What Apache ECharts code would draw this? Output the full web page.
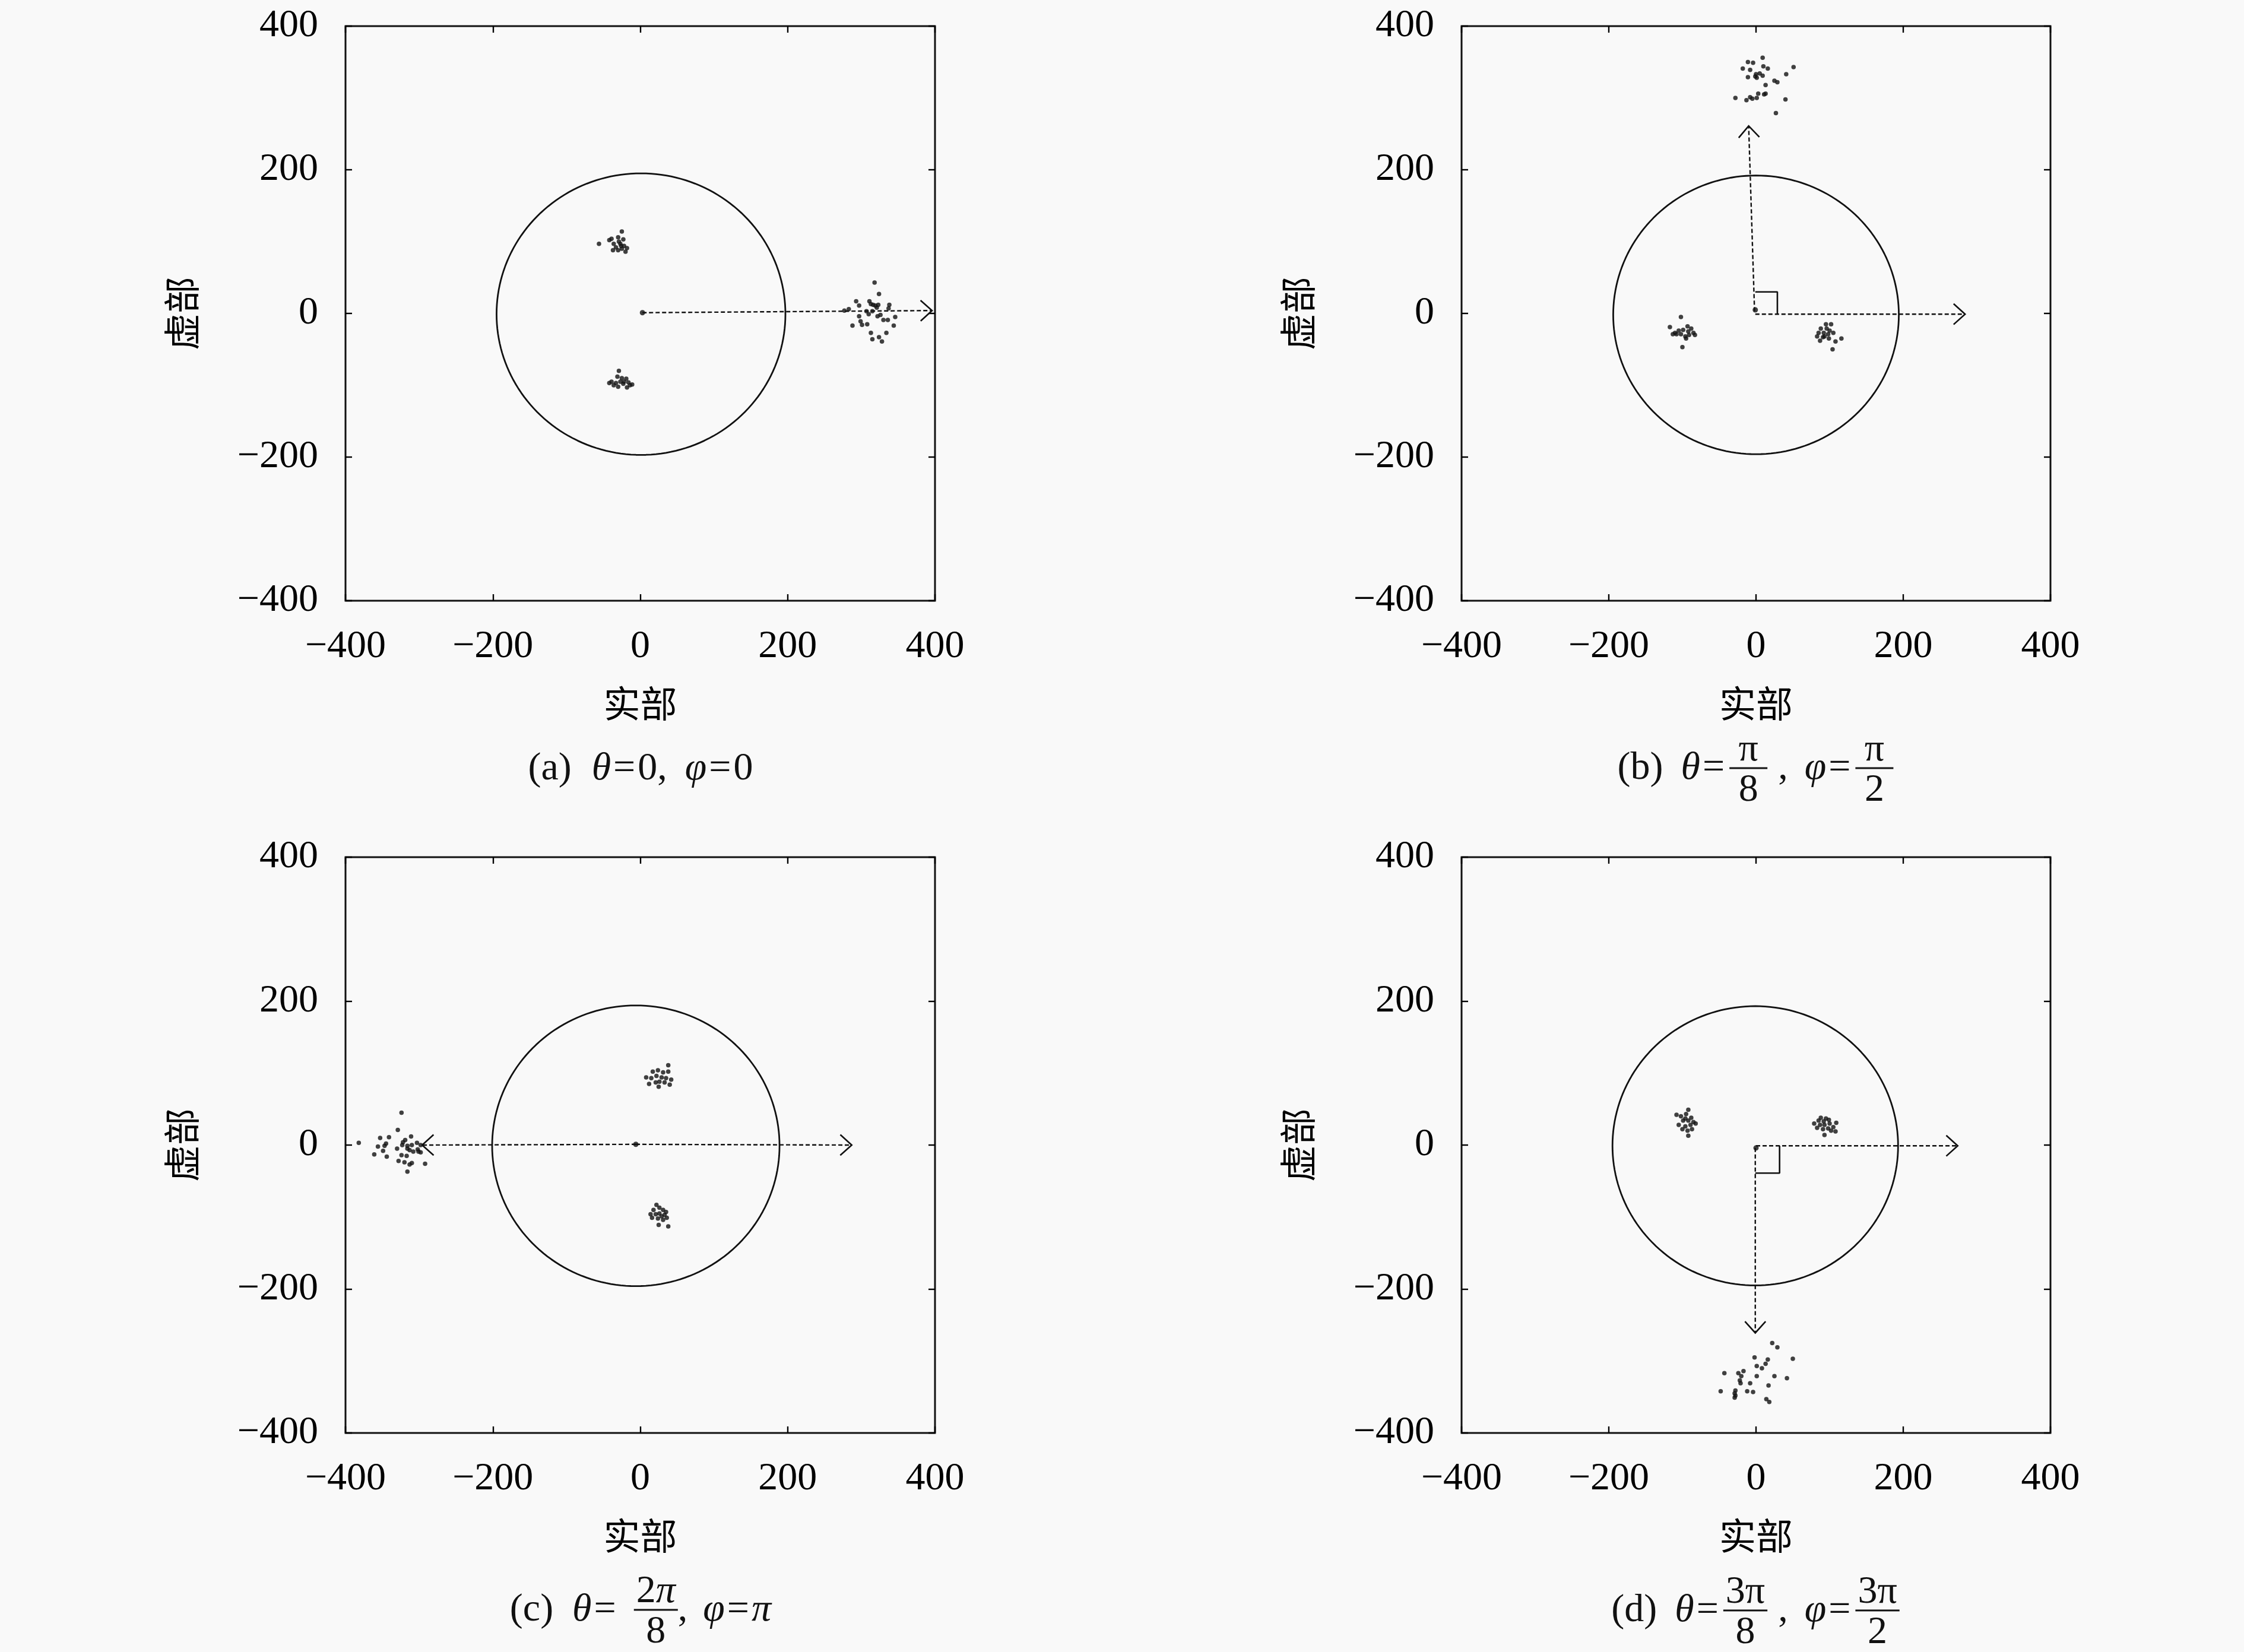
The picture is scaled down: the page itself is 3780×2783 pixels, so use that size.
<!DOCTYPE html>
<html>
<head>
<meta charset="utf-8">
<script src="https://cdn.jsdelivr.net/npm/echarts@6/dist/echarts.min.js"></script>
<style>
html,body{margin:0;padding:0;background:#f9f9f9;}
#chart{width:3780px;height:2783px;}
</style>
</head>
<body>
<div id="chart"></div>
<script>
// ---------------- data ----------------
const axisMin = -400, axisMax = 400, axisStep = 200;
const xAxisName = '实部';
const yAxisName = '虚部';

// panel (a) θ=0, φ=0
const a_center = [[3, 1]];
const a_upper = [[-25,114],[-39,104],[-30,106],[-23,103],[-36,97],[-27,97],[-22,94],[-18,91],[-37,88],[-30,88],[-25,90],[-20,86],[-33,92],[-42,102],[-56,97],[-29,100],[-26,94]];
const a_lower = [[-29,-80],[-31,-88],[-25,-90],[-19,-91],[-16,-96],[-11,-99],[-42,-97],[-36,-100],[-30,-102],[-23,-98],[-18,-103],[-39,-95],[-27,-95],[-33,-97],[-22,-95],[-14,-100]];
const a_outer = [[318,43],[324,27],[293,17],[297,11],[311,17],[313,13],[316,12],[319,11],[323,12],[321,8],[338,12],[337,7],[277,4],[283,6],[307,3],[310,-1],[315,3],[326,-2],[322,-4],[297,-4],[330,-9],[336,-9],[346,-5],[299,-11],[301,-16],[308,-15],[288,-17],[344,-17],[313,-27],[315,-36],[324,-33],[328,-39],[334,-27]];
const a_arrows = [[3,1,396,4]];
const a_circle = [1,-1,196];

// panel (b) θ=π/8, φ=π/2
const b_center = [[-1, 5]];
const b_left = [[-102,-5],[-117,-19],[-110,-27],[-105,-24],[-99,-23],[-93,-18],[-88,-21],[-85,-27],[-91,-30],[-96,-32],[-102,-29],[-108,-29],[-92,-25],[-83,-30],[-100,-47],[-95,-35],[-113,-29]];
const b_right = [[95,-15],[102,-15],[88,-21],[96,-21],[100,-24],[85,-27],[92,-27],[98,-29],[105,-27],[83,-32],[91,-33],[99,-35],[108,-39],[116,-35],[87,-38],[104,-50],[93,-32]];
const b_outer = [[9,356],[-11,350],[-4,349],[-18,341],[-8,339],[10,344],[16,341],[51,343],[41,333],[-11,329],[0,333],[5,334],[9,331],[1,328],[13,318],[25,324],[29,322],[3,306],[11,305],[13,306],[-28,300],[-13,297],[-8,301],[-5,299],[1,300],[40,298],[27,279],[-1,330]];
const b_arrows = [[-2,3,-10,261],[-1,-1,284,-1]];
const b_rightAngle = [[-1,30],[29,30],[29,-1]];
const b_circle = [0,-2,194];

// panel (c) θ=2π/8, φ=π
const c_center = [[-6, 1]];
const c_upper = [[38,111],[17,102],[24,104],[31,101],[38,102],[8,94],[15,93],[22,96],[29,94],[35,93],[42,91],[12,85],[21,87],[26,88],[33,87],[40,84],[25,81]];
const c_lower = [[22,-83],[26,-87],[18,-90],[31,-90],[35,-93],[14,-96],[21,-96],[26,-95],[33,-97],[36,-101],[16,-101],[24,-102],[31,-104],[25,-111],[38,-113],[29,-99]];
const c_outer = [[-324,45],[-329,21],[-353,10],[-341,11],[-311,12],[-382,3],[-319,7],[-345,2],[-347,-1],[-356,-2],[-322,4],[-323,0],[-316,-1],[-310,0],[-303,3],[-298,0],[-330,-5],[-349,-8],[-316,-5],[-313,-7],[-308,-9],[-302,-6],[-301,-9],[-298,-10],[-361,-13],[-324,-14],[-317,-15],[-344,-16],[-328,-22],[-320,-24],[-313,-27],[-310,-25],[-292,-26],[-316,-37]];
const c_arrows = [[-6,1,-296,0],[-6,1,287,0]];
const c_circle = [-6,-1,195];

// panel (d) θ=3π/8, φ=3π/2
const d_center = [[0, -4]];
const d_left = [[-92,49],[-108,42],[-102,40],[-95,43],[-88,38],[-99,34],[-92,34],[-85,32],[-105,28],[-96,26],[-89,28],[-82,30],[-100,22],[-93,20],[-87,22],[-92,13],[-96,37]];
const d_right = [[88,38],[95,37],[85,34],[92,33],[99,35],[79,30],[87,28],[93,28],[100,30],[109,31],[83,24],[91,22],[98,23],[105,25],[108,19],[93,14],[102,20]];
const d_outer = [[22,-275],[29,-281],[-2,-295],[16,-298],[50,-297],[13,-304],[1,-307],[8,-310],[-17,-314],[-24,-317],[-43,-317],[-20,-321],[1,-321],[25,-321],[42,-324],[-22,-327],[-21,-331],[-8,-331],[17,-334],[-48,-342],[-28,-341],[-12,-342],[-4,-343],[-29,-345],[-28,-348],[-29,-351],[14,-353],[18,-357]];
const d_arrows = [[0,-1,274,-1],[-1,-4,-1,-261]];
const d_rightAngle = [[-1,-39],[32,-39],[32,-1]];
const d_circle = [-1,-1,194];

// captions
const captionA = [{t:'(a)'},{gap:34},{t:'θ',i:1},{gap:4},{t:'='},{gap:4},{t:'0'},{t:','},{gap:30},{t:'φ',i:1},{gap:4},{t:'='},{gap:4},{t:'0'}];
const captionB = [{t:'(b)'},{gap:30},{t:'θ',i:1},{gap:4},{t:'='},{gap:8},{num:[{t:'π'}],den:[{t:'8'}]},{gap:18},{t:','},{gap:28},{t:'φ',i:1},{gap:4},{t:'='},{gap:8},{num:[{t:'π'}],den:[{t:'2'}]}];
const captionC = [{t:'(c)'},{gap:32},{t:'θ',i:1},{gap:4},{t:'='},{gap:30},{num:[{t:'2'},{t:'π',i:1}],den:[{t:'8'}]},{t:','},{gap:26},{t:'φ',i:1},{gap:4},{t:'='},{gap:4},{t:'π',i:1}];
const captionD = [{t:'(d)'},{gap:30},{t:'θ',i:1},{gap:4},{t:'='},{gap:8},{num:[{t:'3π'}],den:[{t:'8'}]},{gap:18},{t:','},{gap:28},{t:'φ',i:1},{gap:4},{t:'='},{gap:8},{num:[{t:'3π'}],den:[{t:'2'}]}];

// ---------------- layout & style ----------------
const grids = [
  {left:582, top:44, width:993, height:968},
  {left:2462, top:44, width:992, height:968},
  {left:582, top:1444, width:993, height:970},
  {left:2462, top:1444, width:992, height:970}
];
const captionPos = [[1079,1311],[2957,1310],[1079,2728],[2957,2729]];
const FS = 66;
const SERIF = '"Liberation Serif", "DejaVu Serif", serif';
const ROMAN = FS + 'px ' + SERIF;
const ITAL = 'italic ' + FS + 'px ' + SERIF;
const MID = 15;

const minus = v => String(v).replace('-', '\u2212');
const tickStyle = {show:true, inside:true, length:11, lineStyle:{color:'#000', width:2.4}};
const labelStyle = {color:'#000', fontFamily:SERIF, fontSize:FS};
const nameStyle = {color:'#000', fontFamily:'"Noto Sans CJK SC"', fontSize:62};
const hiddenLine = {show:false, onZero:false};

const xAxes = [], yAxes = [];
grids.forEach((g, gi) => {
  xAxes.push({gridIndex:gi, type:'value', min:axisMin, max:axisMax, interval:axisStep, position:'bottom',
    axisLine:hiddenLine, axisTick:tickStyle, splitLine:{show:false},
    axisLabel:Object.assign({margin:45, formatter:minus}, labelStyle),
    name:xAxisName, nameLocation:'middle', nameGap:142, nameTextStyle:nameStyle});
  xAxes.push({gridIndex:gi, type:'value', min:axisMin, max:axisMax, interval:axisStep, position:'top',
    axisLine:hiddenLine, axisTick:tickStyle, splitLine:{show:false}, axisLabel:{show:false}});
  yAxes.push({gridIndex:gi, type:'value', min:axisMin, max:axisMax, interval:axisStep, position:'left',
    axisLine:hiddenLine, axisTick:tickStyle, splitLine:{show:false},
    axisLabel:Object.assign({margin:46, formatter:minus}, labelStyle),
    name:yAxisName, nameLocation:'middle', nameRotate:90, nameGap:245, nameTextStyle:nameStyle});
  yAxes.push({gridIndex:gi, type:'value', min:axisMin, max:axisMax, interval:axisStep, position:'right',
    axisLine:hiddenLine, axisTick:tickStyle, splitLine:{show:false}, axisLabel:{show:false}});
});

function circlePoints(c) {
  const pts = [];
  for (let k = 0; k <= 180; k++) {
    const t = k / 180 * 2 * Math.PI;
    pts.push([c[0] + c[2] * Math.cos(t), c[1] + c[2] * Math.sin(t)]);
  }
  return pts;
}

function arrowRender(params, api) {
  const p0 = api.coord([api.value(0), api.value(1)]);
  const p1 = api.coord([api.value(2), api.value(3)]);
  const ang = Math.atan2(p1[1] - p0[1], p1[0] - p0[0]);
  const L = 26, h = 42 * Math.PI / 180;
  const a1 = [p1[0] - L * Math.cos(ang - h), p1[1] - L * Math.sin(ang - h)];
  const a2 = [p1[0] - L * Math.cos(ang + h), p1[1] - L * Math.sin(ang + h)];
  return {type:'group', children:[
    {type:'line', shape:{x1:p0[0], y1:p0[1], x2:p1[0], y2:p1[1]}, style:{stroke:'#111', lineWidth:2.4, lineDash:[7,4], fill:null}},
    {type:'polyline', shape:{points:[a1, p1, a2]}, style:{stroke:'#111', lineWidth:2.6, fill:null}}
  ]};
}

const panels = [
  {circle:a_circle, arrows:a_arrows, rightAngle:null, dots:[a_upper, a_lower, a_outer], center:a_center},
  {circle:b_circle, arrows:b_arrows, rightAngle:b_rightAngle, dots:[b_left, b_right, b_outer], center:b_center},
  {circle:c_circle, arrows:c_arrows, rightAngle:null, dots:[c_upper, c_lower, c_outer], center:c_center},
  {circle:d_circle, arrows:d_arrows, rightAngle:d_rightAngle, dots:[d_left, d_right, d_outer], center:d_center}
];

const series = [];
panels.forEach((p, gi) => {
  const ax = {xAxisIndex:gi*2, yAxisIndex:gi*2};
  series.push(Object.assign({type:'line', data:circlePoints(p.circle), symbol:'none', smooth:false,
    lineStyle:{color:'#111', width:2.8}, silent:true, z:2}, ax));
  series.push(Object.assign({type:'custom', data:p.arrows, renderItem:arrowRender, silent:true, z:3,
    encode:{x:[0,2], y:[1,3]}}, ax));
  if (p.rightAngle) {
    series.push(Object.assign({type:'line', data:p.rightAngle, symbol:'none',
      lineStyle:{color:'#111', width:2.6}, silent:true, z:3}, ax));
  }
  p.dots.forEach(d => {
    series.push(Object.assign({type:'scatter', data:d, symbol:'circle', symbolSize:7.5,
      itemStyle:{color:'#111'}, silent:true, z:5}, ax));
  });
  series.push(Object.assign({type:'scatter', data:p.center, symbol:'circle', symbolSize:9,
    itemStyle:{color:'#111'}, silent:true, z:5}, ax));
});

// ---------------- captions (real text laid out with measured widths) ----------------
const mctx = document.createElement('canvas').getContext('2d');
function tw(t, f) { mctx.font = f; return mctx.measureText(t).width; }
function fontOf(p) { return p.i ? ITAL : ROMAN; }
function runWidth(run) { return run.reduce((s, p) => s + tw(p.t, fontOf(p)), 0); }
function textEl(t, f, x, baseline) {
  return {type:'text', style:{text:t, font:f, x:x, y:baseline - MID, fill:'#111',
    textAlign:'left', align:'left', textVerticalAlign:'middle', verticalAlign:'middle'}};
}
function runEls(run, x, baseline) {
  const out = [];
  run.forEach(p => { const f = fontOf(p); out.push(textEl(p.t, f, x, baseline)); x += tw(p.t, f); });
  return out;
}
function buildCaption(items, cx, B) {
  let x = 0; const kids = [];
  items.forEach(it => {
    if (it.gap != null) { x += it.gap; return; }
    if (it.num) {
      const wn = runWidth(it.num), wd = runWidth(it.den);
      const w = Math.max(wn, wd, 56) + 8;
      kids.push({type:'rect', shape:{x:x, y:B - 17.5, width:w, height:3}, style:{fill:'#111'}});
      kids.push(...runEls(it.num, x + (w - wn) / 2, B - 31));
      kids.push(...runEls(it.den, x + (w - wd) / 2, B + 37));
      x += w; return;
    }
    kids.push(...runEls([it], x, B));
    x += tw(it.t, fontOf(it));
  });
  return {type:'group', x:cx - x / 2, y:0, children:kids};
}
const captions = [captionA, captionB, captionC, captionD];
const graphicEls = captions.map((c, i) => buildCaption(c, captionPos[i][0], captionPos[i][1]));

const chart = echarts.init(document.getElementById('chart'), null, {renderer:'canvas'});
chart.setOption({
  backgroundColor:'#f9f9f9',
  animation:false,
  grid:grids.map(g => Object.assign({show:true, borderColor:'#111', borderWidth:3, backgroundColor:'transparent', containLabel:false}, g)),
  xAxis:xAxes,
  yAxis:yAxes,
  series:series,
  graphic:{elements:graphicEls}
});
</script>
</body>
</html>
